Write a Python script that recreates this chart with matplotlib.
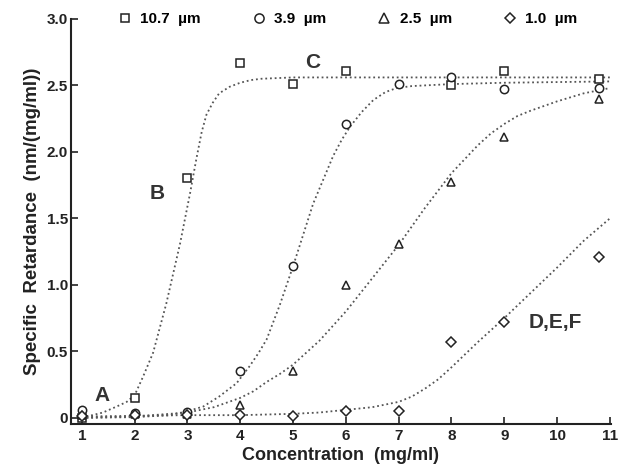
import matplotlib.pyplot as plt

# measured points
conc = [1, 2, 3, 4, 5, 6, 7, 8, 9, 10.8]
sq_x = [1, 2, 3, 4, 5, 6, 8, 9, 10.8]
sq_y = [0.0, 0.15, 1.80, 2.67, 2.51, 2.61, 2.50, 2.61, 2.55]
ci_y = [0.06, 0.04, 0.045, 0.35, 1.14, 2.21, 2.51, 2.56, 2.47, 2.48]
tr_y = [0.02, 0.03, 0.03, 0.10, 0.35, 1.00, 1.31, 1.77, 2.11, 2.40]
di_y = [0.01, 0.02, 0.02, 0.02, 0.01, 0.05, 0.05, 0.57, 0.72, 1.21]

# fitted curves
fit1_x = [1.0, 1.2, 1.4, 1.66, 1.85, 2.0, 2.16, 2.35, 2.6, 2.86, 3.05, 3.17, 3.27, 3.36, 3.48,
          3.6, 3.8, 4.0, 4.2, 4.4, 5.0, 11.0]
fit1_y = [0.005, 0.02, 0.04, 0.085, 0.12, 0.17, 0.31, 0.49, 0.86, 1.31, 1.69, 1.95, 2.15, 2.28, 2.37,
          2.44, 2.49, 2.52, 2.54, 2.55, 2.56, 2.56]
fit2_x = [1.0, 2.0, 2.67, 3.0, 3.3, 3.6, 3.93, 4.18, 4.35, 4.5, 4.75, 5.0, 5.38, 5.76, 5.92, 6.08,
          6.3, 6.52, 6.75, 6.96, 7.25, 8.0, 9.0, 11.0]
fit2_y = [0.0, 0.005, 0.02, 0.05, 0.085, 0.16, 0.26, 0.39, 0.49, 0.59, 0.85, 1.14, 1.61, 1.97, 2.09, 2.19,
          2.30, 2.39, 2.45, 2.48, 2.495, 2.51, 2.52, 2.53]
fit3_x = [1.0, 2.0, 3.0, 3.5, 4.0, 4.25, 4.5, 4.75, 5.0, 5.5, 6.0, 6.5, 7.0, 7.5, 8.0, 8.5, 8.75,
          9.0, 9.25, 9.5, 10.0, 10.5, 11.0]
fit3_y = [0.0, 0.01, 0.04, 0.08, 0.15, 0.20, 0.27, 0.33, 0.40, 0.58, 0.80, 1.05, 1.30, 1.58, 1.84, 2.05, 2.14,
          2.21, 2.27, 2.31, 2.38, 2.44, 2.48]
fit4_x = [1.0, 2.0, 3.0, 4.0, 5.0, 5.5, 6.0, 6.5, 6.75, 7.0, 7.25, 7.5, 7.75, 8.0, 8.5, 9.0, 9.5,
          10.0, 10.5, 11.0]
fit4_y = [0.01, 0.015, 0.02, 0.02, 0.03, 0.04, 0.06, 0.08, 0.10, 0.12, 0.16, 0.22, 0.29, 0.38, 0.57, 0.75, 0.94,
          1.13, 1.33, 1.50]

labels = ['10.7  µm', '3.9  µm', '2.5  µm', '1.0  µm']

plt.rcParams['font.family'] = ['Liberation Sans', 'DejaVu Sans']
plt.rcParams['font.weight'] = 'bold'

fig = plt.figure(figsize=(6.26, 4.73), dpi=100)
ax = fig.add_axes([0.113, 0.104, 0.863, 0.856])

ls = (0, (1, 1.6))
lc = '#555555'
for fx, fy in [(fit1_x, fit1_y), (fit2_x, fit2_y), (fit3_x, fit3_y), (fit4_x, fit4_y)]:
    ax.plot(fx, fy, linestyle=ls, color=lc, lw=1.3, zorder=1)

mk = dict(mfc='white', mec='#222222', mew=1.1, ls='none', zorder=3)
ax.plot(sq_x, sq_y, 's', ms=5.5, label=labels[0], **mk)
ax.plot(conc, ci_y, 'o', ms=6, label=labels[1], **mk)
ax.plot(conc, tr_y, '^', ms=6, label=labels[2], **mk)
ax.plot(conc, di_y, 'D', ms=5, label=labels[3], **mk)

tk = dict(fontsize=15, fontweight='bold', ha='center', va='center', color='#333333')
ax.text(1.38, 0.17, 'A', **tk)
ax.text(2.42, 1.69, 'B', **tk)
ax.text(5.38, 2.67, 'C', **tk)
ax.text(9.96, 0.72, 'D,E,F', **tk)

ax.set_xlim(0.79, 11.02)
ax.set_ylim(-0.045, 3.0)
ax.set_xticks(range(1, 12))
ax.set_yticks([0, 0.5, 1.0, 1.5, 2.0, 2.5, 3.0])
ax.set_yticklabels(['0', '0.5', '1.0', '1.5', '2.0', '2.5', '3.0'])
ax.tick_params(direction='in', length=5, width=1.2, labelsize=11, colors='#222222')
ax.tick_params(axis='y', pad=2)
for s in ['top', 'right']:
    ax.spines[s].set_visible(False)
for s in ['left', 'bottom']:
    ax.spines[s].set_linewidth(1.5)
    ax.spines[s].set_color('#222222')

ax.set_xlabel('Concentration  (mg/ml)', fontsize=13, fontweight='bold', color='#222222', labelpad=3)
ax.set_ylabel('Specific  Retardance  (nm/(mg/ml))', fontsize=13.5, fontweight='bold', color='#222222', labelpad=4)

ax.legend(loc='center', bbox_to_anchor=(0.512, 1.0), ncol=4, frameon=False,
          fontsize=11, handletextpad=0.5, columnspacing=3.3, handlelength=1.0,
          borderaxespad=0, markerscale=1.1)

fig.savefig('out.png', dpi=100)
